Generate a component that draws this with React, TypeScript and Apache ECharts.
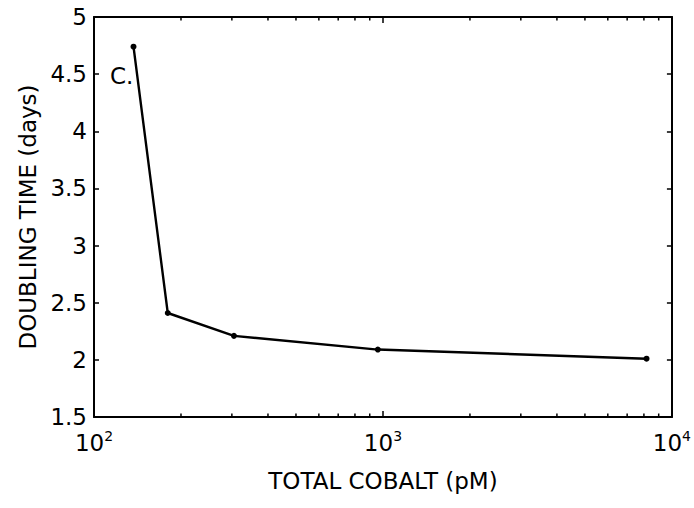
import React, { useEffect, useRef } from "react";
import * as echarts from "echarts";

const xValues = [137, 180, 305, 960, 8170];
const yValues = [4.74, 2.41, 2.21, 2.09, 2.01];
const xMinorTicks = [200, 300, 400, 500, 600, 700, 800, 900, 2000, 3000, 4000, 5000, 6000, 7000, 8000, 9000];
const xAxisName = "TOTAL COBALT (pM)";
const yAxisName = "DOUBLING TIME (days)";
const panelLabel = "C.";

const FONT = "DejaVu Sans";

export default function App() {
  const ref = useRef<HTMLDivElement>(null);
  useEffect(() => {
    const chart = echarts.init(ref.current!, null, { renderer: "svg" });
    const axisLine = { lineStyle: { color: "#000", width: 2 } };
    chart.setOption({
      animation: false,
      backgroundColor: "#fff",
      textStyle: { fontFamily: FONT },
      grid: { left: 94, right: 10, top: 17, bottom: 91 },
      xAxis: [
        {
          type: "log",
          logBase: 10,
          min: 100,
          max: 10000,
          position: "bottom",
          axisLine,
          axisTick: { inside: true, length: 6, lineStyle: { color: "#000", width: 1.5 } },
          splitLine: { show: false },
          axisLabel: {
            margin: 12,
            color: "#000",
            formatter: (v: number) => `{b|10}{s|${Math.round(Math.log10(v))}}`,
            rich: {
              b: { fontSize: 23, fontFamily: FONT, color: "#000" },
              s: { fontSize: 14, fontFamily: FONT, color: "#000", padding: [0, 0, 14, 0] },
            },
          },
          name: xAxisName,
          nameLocation: "middle",
          nameGap: 52,
          nameTextStyle: { fontSize: 23, fontFamily: FONT, color: "#000" },
        },
        {
          type: "log",
          logBase: 10,
          min: 100,
          max: 10000,
          position: "top",
          axisLine,
          axisTick: { inside: true, length: 6, lineStyle: { color: "#000", width: 1.5 } },
          axisLabel: { show: false },
          splitLine: { show: false },
        },
      ],
      yAxis: [
        {
          type: "value",
          min: 1.5,
          max: 5,
          interval: 0.5,
          position: "left",
          axisLine: { show: true, ...axisLine },
          axisTick: { show: true, inside: true, length: 5, lineStyle: { color: "#000", width: 1.5 } },
          splitLine: { show: false },
          axisLabel: { margin: 7, fontSize: 23, fontFamily: FONT, color: "#000" },
          name: yAxisName,
          nameLocation: "middle",
          nameGap: 54,
          nameTextStyle: { fontSize: 23, fontFamily: FONT, color: "#000" },
        },
        {
          type: "value",
          min: 1.5,
          max: 5,
          interval: 0.5,
          position: "right",
          axisLine: { show: true, ...axisLine },
          axisTick: { show: true, inside: true, length: 5, lineStyle: { color: "#000", width: 1.5 } },
          splitLine: { show: false },
          axisLabel: { show: false },
        },
      ],
      series: [
        {
          type: "line",
          data: xValues.map((x, i) => [x, yValues[i]]),
          lineStyle: { color: "#000", width: 2.4 },
          itemStyle: { color: "#000" },
          symbol: "circle",
          symbolSize: 6,
          z: 5,
        },
        {
          type: "custom",
          silent: true,
          clip: false,
          data: xMinorTicks.map((v) => [v, 1.5]),
          renderItem: (params: any, api: any) => {
            const b = api.coord([api.value(0), 1.5]);
            const t = api.coord([api.value(0), 5]);
            return {
              type: "group",
              children: [
                { type: "line", shape: { x1: b[0], y1: b[1], x2: b[0], y2: b[1] - 3.5 }, style: { stroke: "#000", lineWidth: 1.5 } },
                { type: "line", shape: { x1: t[0], y1: t[1], x2: t[0], y2: t[1] + 3.5 }, style: { stroke: "#000", lineWidth: 1.5 } },
              ],
            };
          },
        },
      ],
      graphic: [
        {
          type: "text",
          left: 110,
          top: 64,
          style: { text: panelLabel, fontSize: 23, fontFamily: FONT, fill: "#000" },
        },
      ],
    });
    return () => chart.dispose();
  }, []);
  return <div ref={ref} style={{ position: "fixed", left: 0, top: 0, width: 694, height: 508 }} />;
}
